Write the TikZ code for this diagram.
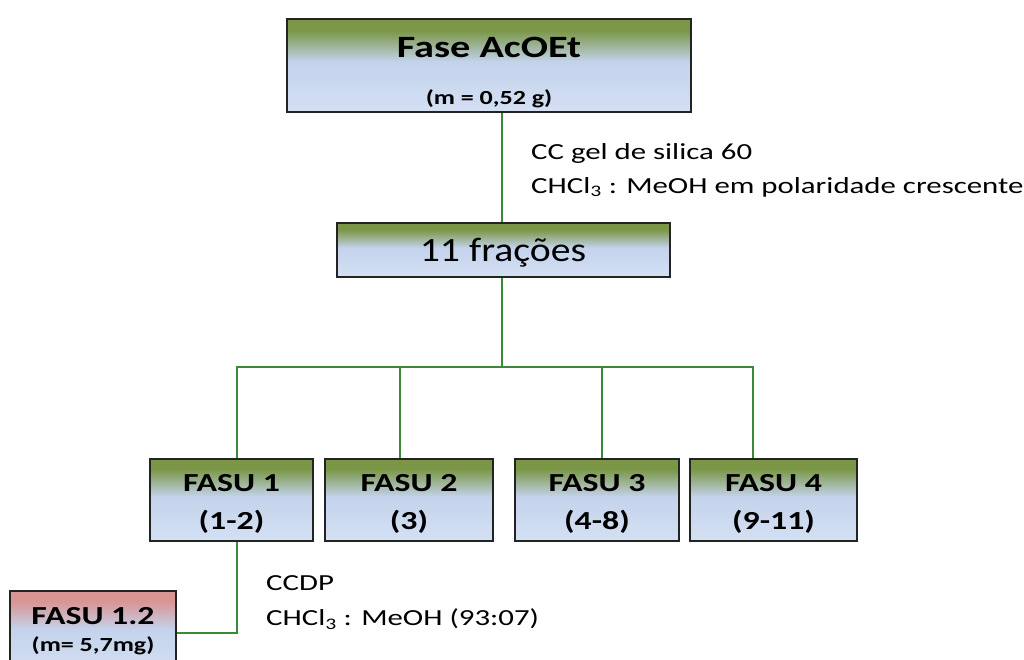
\documentclass[tikz,border=0pt]{standalone}
\usepackage{fontspec}
\setmainfont[FakeStretch=1.3]{Carlito}
\newfontfamily\annfont[FakeStretch=1.34]{Carlito}
\newfontfamily\fracfont[FakeStretch=1.17]{Carlito}
\definecolor{gtop}{RGB}{122,150,70}
\definecolor{lb1}{RGB}{196,211,236}
\definecolor{lb2}{RGB}{212,224,243}
\definecolor{rtop}{RGB}{217,148,148}
\definecolor{linegreen}{RGB}{58,138,58}
\definecolor{bordergray}{RGB}{35,35,35}
\pgfdeclareverticalshading{greenblue}{100bp}{color(0bp)=(lb2); color(25bp)=(lb2); color(52bp)=(lb1); color(69bp)=(gtop); color(100bp)=(gtop)}
\pgfdeclareverticalshading{redblue}{100bp}{color(0bp)=(lb2); color(25bp)=(lb2); color(52bp)=(lb1); color(69bp)=(rtop); color(100bp)=(rtop)}
\tikzset{
  box/.style={draw=bordergray, line width=1.8pt, shading=greenblue, rectangle, inner sep=0pt},
  redbox/.style={box, shading=redblue},
  conn/.style={draw=linegreen, line width=2.6pt},
  txt/.style={inner sep=0pt},
  fasu/.style={txt, font=\fontsize{26}{26}\selectfont\bfseries},
  ann/.style={inner sep=0pt, anchor=west, font=\annfont\fontsize{23}{23}\selectfont},
}
\begin{document}
\begin{tikzpicture}[x=1pt,y=-1pt]
\useasboundingbox (0,0) rectangle (1024,660);
% boxes
\node[box, minimum width=404pt, minimum height=93pt] (top) at (489,65.5) {};
\node[txt, font=\fontsize{31}{31}\selectfont\bfseries] (toptitle) at (489,47) {Fase AcOEt};
\node[txt, font=\fontsize{20}{20}\selectfont\bfseries] (topmass) at (489,99) {(m = 0,52 g)};

\node[box, minimum width=333pt, minimum height=54pt] (frac) at (503.5,250) {};
\node[txt, font=\fracfont\fontsize{34}{34}\selectfont] (fractxt) at (503,253) {11 frações};

\node[box, minimum width=163pt, minimum height=82pt] (f1) at (231.5,500) {};
\node[box, minimum width=168pt, minimum height=82pt] (f2) at (409,500) {};
\node[box, minimum width=164pt, minimum height=82pt] (f3) at (597,500) {};
\node[box, minimum width=167pt, minimum height=82pt] (f4) at (773.5,500) {};
\node[fasu] (f1a) at (f1 |- 0,483) {FASU 1};
\node[fasu] (f1b) at (f1 |- 0,522) {(1-2)};
\node[fasu] (f2a) at (f2 |- 0,483) {FASU 2};
\node[fasu] (f2b) at (f2 |- 0,522) {(3)};
\node[fasu] (f3a) at (f3 |- 0,483) {FASU 3};
\node[fasu] (f3b) at (f3 |- 0,522) {(4-8)};
\node[fasu] (f4a) at (f4 |- 0,483) {FASU 4};
\node[fasu] (f4b) at (f4 |- 0,522) {(9-11)};

\node[redbox, minimum width=166pt, minimum height=84pt] (f12) at (93,633) {};
\node[fasu] (f12a) at (93,616) {FASU 1.2};
\node[txt, font=\fontsize{20}{20}\selectfont\bfseries] (f12b) at (93,646) {(m= 5,7mg)};

% annotations
\node[ann] (a1) at (531,153) {CC gel de silica 60};
\node[ann] (a2) at (531,187) {CHCl\textsubscript{3} : MeOH em polaridade crescente};
\node[ann] (a3) at (266,583) {CCDP};
\node[ann] (a4) at (266,619) {CHCl\textsubscript{3} : MeOH (93:07)};

% connectors
\coordinate (j) at (502,367);
\coordinate (d1) at (237,367);
\coordinate (d2) at (400,367);
\coordinate (d3) at (602,367);
\coordinate (d4) at (753,367);
\draw[conn] (j |- top.south) -- (j |- frac.north);
\draw[conn] (j |- frac.south) -- (j);
\draw[conn] (d1 |- f1.north) -- (d1) -- (d4) -- (d4 |- f4.north);
\draw[conn] (d2) -- (d2 |- f2.north);
\draw[conn] (d3) -- (d3 |- f3.north);
\draw[conn] (d1 |- f1.south) -- (d1 |- f12.east) -- (f12.east);
\end{tikzpicture}
\end{document}
